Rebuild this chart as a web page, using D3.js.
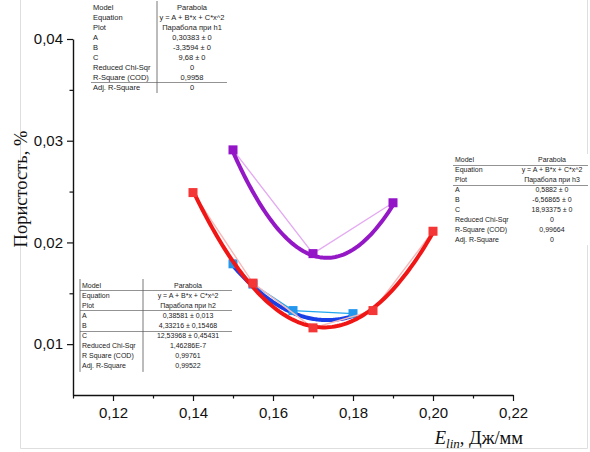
<!DOCTYPE html>
<html><head><meta charset="utf-8">
<script src="https://cdn.jsdelivr.net/npm/d3@7"></script>
<style>body{margin:0;background:#fff}svg{display:block}</style>
</head><body>
<script>
// ---- data ----
const xTicks = [0.12, 0.14, 0.16, 0.18, 0.20, 0.22];
const xTickLabels = ["0,12", "0,14", "0,16", "0,18", "0,20", "0,22"];
const xMinor = [0.11, 0.13, 0.15, 0.17, 0.19, 0.21];
const yTicks = [0.01, 0.02, 0.03, 0.04];
const yTickLabels = ["0,01", "0,02", "0,03", "0,04"];
const yMinor = [0.015, 0.025, 0.035];

const h1X = [0.15, 0.155, 0.165, 0.18];
const h1Y = [0.0179, 0.0159, 0.0133, 0.0130];
const h2X = [0.14, 0.155, 0.17, 0.185, 0.20];
const h2Y = [0.0249, 0.0160, 0.0116, 0.0133, 0.0211];
const h3X = [0.15, 0.17, 0.19];
const h3Y = [0.0291, 0.0189, 0.0239];

// parabola fit coefficients A, B, C (y = A + B*x + C*x^2)
const fitH1 = [0.30383, -3.3594, 9.68];
const fitH2 = [0.38581, -4.33216, 12.53968];
const fitH3 = [0.5882, -6.56865, 18.93375];

const tableLabels1 = ["Model", "Equation", "Plot", "A", "B", "C", "Reduced Chi-Sqr", "R-Square (COD)", "Adj. R-Square"];
const tableValues1 = ["Parabola", "y = A + B*x + C*x^2", "Парабола при h1", "0,30383 ± 0", "-3,3594 ± 0", "9,68 ± 0", "0", "0,9958", "0"];
const tableLabels2 = ["Model", "Equation", "Plot", "A", "B", "C", "Reduced Chi-Sqr", "R Square (COD)", "Adj. R-Square"];
const tableValues2 = ["Parabola", "y = A + B*x + C*x^2", "Парабола при h2", "0,38581 ± 0,013", "4,33216 ± 0,15468", "12,53968 ± 0,45431", "1,46286E-7", "0,99761", "0,99522"];
const tableLabels3 = ["Model", "Equation", "Plot", "A", "B", "C", "Reduced Chi-Sqr", "R-Square (COD)", "Adj. R-Square"];
const tableValues3 = ["Parabola", "y = A + B*x + C*x^2", "Парабола при h3", "0,5882 ± 0", "-6,56865 ± 0", "18,93375 ± 0", "0", "0,99664", "0"];

// ---- drawing ----
const W = 590, H = 452;
const svg = d3.select("body").append("svg").attr("width", W).attr("height", H);

// frame
const frame = svg.append("g").attr("stroke", "#dedede").attr("stroke-width", 1);
frame.append("line").attr("x1", 20.5).attr("x2", 20.5).attr("y1", 0).attr("y2", 448.5);
frame.append("line").attr("x1", 587.5).attr("x2", 587.5).attr("y1", 0).attr("y2", 448.5);
frame.append("line").attr("x1", 20.5).attr("x2", 587.5).attr("y1", 448.5).attr("y2", 448.5);

const x = d3.scaleLinear().domain([0.11, 0.22]).range([73, 513]);
const y = d3.scaleLinear().domain([0.005, 0.04]).range([395, 39]);

// axes
const xAxis = d3.axisBottom(x).tickValues(xTicks).tickSize(6).tickSizeOuter(0)
  .tickFormat((d, i) => xTickLabels[i]);
const gx = svg.append("g").attr("transform", `translate(0,${y(0.005)})`).call(xAxis);
gx.select(".domain").attr("stroke", "#111").attr("stroke-width", 1.4);
gx.selectAll(".tick line").attr("stroke", "#111").attr("stroke-width", 1.2);
gx.selectAll(".tick text").attr("font-family", "Liberation Sans, Arial, sans-serif")
  .attr("font-size", 15).attr("fill", "#111").attr("dy", "0.95em");
const gxm = svg.append("g").attr("transform", `translate(0,${y(0.005)})`)
  .call(d3.axisBottom(x).tickValues(xMinor).tickSize(3.5).tickFormat(""));
gxm.select(".domain").remove();
gxm.selectAll(".tick line").attr("stroke", "#111").attr("stroke-width", 1.2);

const yAxis = d3.axisLeft(y).tickValues(yTicks).tickSize(6).tickSizeOuter(0)
  .tickFormat((d, i) => yTickLabels[i]);
const gy = svg.append("g").attr("transform", `translate(${x(0.11)},0)`).call(yAxis);
gy.select(".domain").attr("stroke", "#111").attr("stroke-width", 1.4);
gy.selectAll(".tick line").attr("stroke", "#111").attr("stroke-width", 1.2);
gy.selectAll(".tick text").attr("font-family", "Liberation Sans, Arial, sans-serif")
  .attr("font-size", 15).attr("fill", "#111").attr("x", -10);
const gym = svg.append("g").attr("transform", `translate(${x(0.11)},0)`)
  .call(d3.axisLeft(y).tickValues(yMinor).tickSize(3.5).tickFormat(""));
gym.select(".domain").remove();
gym.selectAll(".tick line").attr("stroke", "#111").attr("stroke-width", 1.2);

// axis titles
svg.append("text").attr("transform", "translate(27,189) rotate(-90)")
  .attr("text-anchor", "middle").attr("font-family", "Liberation Serif, Times New Roman, serif")
  .attr("font-size", 18.5).attr("fill", "#111").text("Пористость, %");
const xt = svg.append("text").attr("x", 523).attr("y", 444).attr("text-anchor", "end")
  .attr("font-family", "Liberation Serif, Times New Roman, serif").attr("font-size", 18.5).attr("fill", "#111");
xt.append("tspan").attr("font-style", "italic").text("E");
xt.append("tspan").attr("font-style", "italic").attr("font-size", 13).attr("dy", 4).text("lin");
xt.append("tspan").attr("dy", -4).text(", Дж/мм");

// tables
function drawTable(labels, values, o) {
  const g = svg.append("g");
  const n = labels.length;
  g.append("rect").attr("x", o.x0).attr("y", o.top).attr("width", o.x1 - o.x0)
    .attr("height", n * o.rowH + 2).attr("fill", "#fff");
  labels.forEach((lab, i) => {
    const cy = o.top + o.rowH * (i + 0.5) + 1;
    g.append("text").attr("x", o.x0 + 2).attr("y", cy).attr("dy", "0.35em")
      .attr("font-family", "Liberation Sans, Arial, sans-serif").attr("font-size", o.fs)
      .attr("fill", "#222").text(lab);
    g.append("text").attr("x", o.cx).attr("y", cy).attr("dy", "0.35em").attr("text-anchor", "middle")
      .attr("font-family", "Liberation Sans, Arial, sans-serif").attr("font-size", o.fs)
      .attr("fill", "#222").text(values[i]);
  });
  o.hlines.forEach(r => {
    const yy = Math.round(o.top + o.rowH * r + 1) + 0.5;
    g.append("line").attr("x1", o.x0).attr("x2", o.x1).attr("y1", yy).attr("y2", yy)
      .attr("stroke", "#777").attr("stroke-width", 0.8);
  });
  if (o.div) g.append("line").attr("x1", o.div).attr("x2", o.div).attr("y1", o.top)
    .attr("y2", o.top + n * o.rowH + 2).attr("stroke", "#555").attr("stroke-width", 0.8);
  if (o.leftBorder) g.append("line").attr("x1", o.x0).attr("x2", o.x0).attr("y1", o.top)
    .attr("y2", o.top + n * o.rowH + 2).attr("stroke", "#555").attr("stroke-width", 0.8);
}

// series
function drawSeries(xs, ys, coef, c) {
  const pts = xs.map((v, i) => [v, ys[i]]);
  svg.append("path").datum(pts).attr("fill", "none").attr("stroke", c.thin).attr("stroke-width", 1.4)
    .attr("d", d3.line().x(d => x(d[0])).y(d => y(d[1])));
  const x0 = d3.min(xs), x1 = d3.max(xs);
  const fit = d3.range(0, 101).map(k => {
    const xv = x0 + (x1 - x0) * k / 100;
    return [xv, coef[0] + coef[1] * xv + coef[2] * xv * xv];
  });
  svg.append("path").datum(fit).attr("fill", "none").attr("stroke", c.fit).attr("stroke-width", 4)
    .attr("stroke-linecap", "round")
    .attr("d", d3.line().x(d => x(d[0])).y(d => y(d[1])));
  svg.selectAll(null).data(pts).enter().append("rect")
    .attr("x", d => x(d[0]) - 4.5).attr("y", d => y(d[1]) - 4.5)
    .attr("width", 9).attr("height", 9).attr("fill", c.sym);
}

drawSeries(h1X, h1Y, fitH1, {thin: "#22a6ee", fit: "#1a3fe6", sym: "#2396ee"});
drawSeries(h2X, h2Y, fitH2, {thin: "#f6b9b9", fit: "#f01616", sym: "#f43636"});
drawSeries(h3X, h3Y, fitH3, {thin: "#e4aaf2", fit: "#9418c6", sym: "#9414c8"});

drawTable(tableLabels1, tableValues1, {x0: 91, x1: 227, div: 157, cx: 192, top: 1, rowH: 10, fs: 7.5, hlines: [8]});
drawTable(tableLabels3, tableValues3, {x0: 453, x1: 588, div: null, cx: 552, top: 154, rowH: 9.9, fs: 7, hlines: [1, 3]});
drawTable(tableLabels2, tableValues2, {x0: 80, x1: 232, div: 143, cx: 188, top: 279, rowH: 10.1, fs: 7, hlines: [1, 3, 5], leftBorder: true});
</script>
</body></html>
